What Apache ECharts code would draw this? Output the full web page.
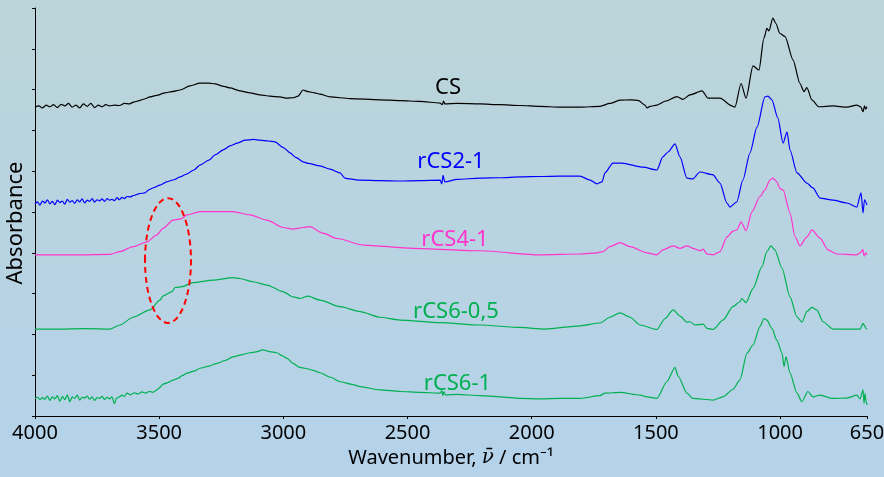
<!DOCTYPE html>
<html>
<head>
<meta charset="utf-8">
<script src="https://cdn.jsdelivr.net/npm/echarts@6/dist/echarts.min.js"></script>
<style>
  html, body { margin: 0; padding: 0; }
  #chart { width: 884px; height: 477px; }
</style>
</head>
<body>
<div id="chart"></div>
<script>
// x tick labels (wavenumber, cm-1)
const wavenumberTicks = [4000, 3500, 3000, 2500, 2000, 1500, 1000, 650]

// spectra: [wavenumber, absorbance + stacking offset]
const cs = [
  [4000,7.57],[3985,7.60],[3970,7.55],[3955,7.62],[3940,7.58],[3925,7.63],[3910,7.56],[3895,7.64],
  [3880,7.60],[3865,7.66],[3850,7.57],[3835,7.62],[3820,7.55],[3805,7.65],[3790,7.59],[3775,7.66],
  [3760,7.56],[3745,7.62],[3730,7.58],[3715,7.63],[3700,7.60],[3680,7.62],[3660,7.61],[3640,7.66],
  [3620,7.65],[3600,7.70],[3580,7.73],[3560,7.77],[3537,7.82],[3510,7.86],[3477,7.92],[3450,7.95],
  [3416,7.99],[3376,8.09],[3336,8.16],[3300,8.16],[3275,8.14],[3240,8.08],[3215,8.04],[3175,7.97],
  [3134,7.92],[3094,7.87],[3054,7.84],[3014,7.82],[2985,7.79],[2961,7.80],[2941,7.84],[2921,7.99],
  [2900,7.95],[2873,7.92],[2853,7.89],[2812,7.82],[2732,7.78],[2611,7.75],[2530,7.73],[2450,7.71],
  [2369,7.67],[2360,7.63],[2355,7.72],[2350,7.65],[2300,7.66],[2208,7.65],[2128,7.63],[2047,7.61],
  [1967,7.59],[1886,7.57],[1806,7.57],[1725,7.59],[1685,7.66],[1645,7.74],[1600,7.75],[1570,7.73],
  [1544,7.62],[1536,7.55],[1524,7.59],[1496,7.62],[1460,7.72],[1415,7.83],[1391,7.76],[1363,7.87],
  [1314,7.97],[1290,7.79],[1242,7.79],[1194,7.60],[1182,7.57],[1157,8.15],[1137,7.79],[1109,8.58],
  [1085,8.48],[1065,9.26],[1053,9.50],[1045,9.44],[1029,9.75],[1017,9.62],[1001,9.38],[980,9.30],
  [948,8.73],[920,8.15],[904,7.95],[892,8.05],[872,7.75],[844,7.58],[787,7.60],[731,7.57],
  [691,7.62],[675,7.58],[666,7.46],[660,7.60],[655,7.52],[650,7.58]
]

const rcs2_1 = [
  [4000,5.20],[3990,5.25],[3980,5.17],[3970,5.27],[3960,5.22],[3950,5.30],[3940,5.20],[3930,5.26],
  [3920,5.18],[3910,5.29],[3900,5.23],[3890,5.27],[3880,5.19],[3870,5.31],[3860,5.24],[3850,5.28],
  [3840,5.21],[3830,5.30],[3820,5.25],[3810,5.32],[3800,5.22],[3790,5.29],[3780,5.26],[3770,5.33],
  [3760,5.24],[3750,5.30],[3740,5.27],[3730,5.32],[3720,5.26],[3710,5.33],[3700,5.29],[3690,5.31],
  [3680,5.28],[3670,5.35],[3660,5.30],[3650,5.36],[3640,5.33],[3630,5.38],[3618,5.37],[3600,5.41],
  [3580,5.45],[3557,5.47],[3540,5.55],[3520,5.60],[3497,5.66],[3470,5.74],[3440,5.79],[3416,5.86],
  [3390,5.93],[3360,6.03],[3336,6.15],[3300,6.27],[3275,6.40],[3240,6.53],[3215,6.62],[3185,6.69],
  [3154,6.76],[3120,6.78],[3094,6.76],[3060,6.74],[3034,6.72],[3000,6.58],[2973,6.45],[2950,6.34],
  [2921,6.23],[2900,6.19],[2853,6.13],[2812,6.05],[2772,5.96],[2752,5.83],[2732,5.81],[2691,5.78],
  [2611,5.77],[2530,5.76],[2450,5.77],[2369,5.78],[2362,5.69],[2357,5.90],[2350,5.74],[2300,5.80],
  [2208,5.83],[2128,5.84],[2047,5.86],[1967,5.87],[1886,5.88],[1806,5.88],[1765,5.78],[1737,5.69],
  [1717,5.74],[1705,5.96],[1673,6.20],[1637,6.20],[1552,6.10],[1496,6.03],[1472,6.35],[1451,6.47],
  [1423,6.67],[1403,6.35],[1375,5.83],[1351,5.81],[1323,5.98],[1270,5.91],[1242,5.71],[1214,5.22],
  [1202,5.12],[1174,5.25],[1150,5.78],[1121,6.45],[1093,7.08],[1061,7.82],[1049,7.84],[1033,7.75],
  [1009,7.30],[988,6.69],[972,6.96],[960,6.52],[932,5.96],[892,5.71],[868,5.59],[839,5.34],
  [787,5.29],[731,5.22],[691,5.12],[674,5.47],[666,4.98],[660,5.30],[650,5.17]
]

const rcs4_1 = [
  [4000,3.95],[3819,3.95],[3698,3.96],[3658,4.03],[3605,4.15],[3549,4.27],[3509,4.44],[3485,4.60],
  [3444,4.80],[3408,4.84],[3388,4.93],[3336,5.01],[3203,5.01],[3134,4.93],[3066,4.80],[3002,4.62],
  [2960,4.58],[2921,4.62],[2893,4.64],[2840,4.48],[2784,4.35],[2679,4.19],[2478,4.11],[2208,4.05],
  [1967,3.95],[1806,3.97],[1737,4.00],[1713,4.03],[1685,4.15],[1645,4.25],[1604,4.15],[1536,4.00],
  [1496,3.95],[1472,4.07],[1431,4.17],[1403,4.11],[1375,4.17],[1351,4.11],[1323,4.05],[1310,4.09],
  [1294,3.97],[1270,3.95],[1242,4.03],[1214,4.39],[1190,4.53],[1174,4.56],[1157,4.76],[1137,4.54],
  [1113,5.01],[1081,5.38],[1061,5.54],[1041,5.78],[1029,5.83],[1013,5.74],[1001,5.58],[988,5.54],
  [960,4.98],[940,4.40],[920,4.17],[892,4.39],[872,4.56],[839,4.36],[807,4.07],[771,3.97],
  [691,3.95],[678,4.00],[666,4.08],[662,3.92],[654,4.00],[650,3.95]
]

const rcs6_05 = [
  [4000,2.13],[3900,2.13],[3800,2.14],[3698,2.13],[3658,2.23],[3605,2.42],[3537,2.60],[3497,2.84],
  [3485,2.94],[3448,3.05],[3436,3.15],[3408,3.17],[3364,3.27],[3283,3.33],[3203,3.39],[3175,3.37],
  [3122,3.29],[3066,3.21],[3002,3.05],[2961,2.92],[2933,2.88],[2901,2.94],[2853,2.84],[2772,2.68],
  [2691,2.56],[2611,2.42],[2530,2.35],[2369,2.29],[2208,2.23],[2047,2.17],[1947,2.13],[1806,2.21],
  [1725,2.28],[1685,2.42],[1645,2.53],[1604,2.42],[1564,2.23],[1496,2.12],[1463,2.39],[1431,2.60],
  [1403,2.45],[1375,2.30],[1363,2.31],[1343,2.23],[1310,2.25],[1294,2.15],[1270,2.12],[1230,2.35],
  [1190,2.68],[1162,2.80],[1154,2.88],[1137,2.78],[1109,3.13],[1073,3.66],[1053,4.03],[1037,4.17],
  [1021,4.07],[992,3.62],[960,2.92],[932,2.43],[912,2.30],[892,2.56],[872,2.66],[852,2.60],
  [827,2.31],[787,2.13],[678,2.13],[666,2.27],[654,2.15],[650,2.13]
]

const rcs6_1 = [
  [4000,0.43],[3990,0.46],[3980,0.40],[3970,0.45],[3960,0.41],[3950,0.49],[3940,0.38],[3930,0.47],
  [3920,0.42],[3910,0.50],[3900,0.36],[3890,0.48],[3880,0.40],[3870,0.52],[3860,0.35],[3850,0.47],
  [3840,0.43],[3830,0.51],[3820,0.39],[3810,0.46],[3800,0.44],[3790,0.49],[3780,0.41],[3770,0.47],
  [3760,0.38],[3750,0.45],[3740,0.43],[3730,0.48],[3720,0.40],[3710,0.46],[3700,0.42],[3690,0.47],
  [3680,0.30],[3672,0.44],[3660,0.47],[3650,0.51],[3640,0.48],[3630,0.56],[3615,0.52],[3600,0.57],
  [3585,0.54],[3570,0.59],[3555,0.56],[3540,0.60],[3525,0.58],[3509,0.64],[3497,0.70],[3485,0.78],
  [3465,0.82],[3444,0.88],[3425,0.92],[3408,0.99],[3388,1.05],[3360,1.10],[3336,1.17],[3300,1.22],
  [3267,1.29],[3235,1.36],[3203,1.45],[3170,1.50],[3134,1.55],[3110,1.57],[3082,1.62],[3055,1.58],
  [3026,1.55],[3005,1.48],[2985,1.41],[2961,1.29],[2933,1.19],[2913,1.17],[2880,1.12],[2853,1.06],
  [2810,0.95],[2772,0.84],[2720,0.77],[2691,0.72],[2611,0.64],[2530,0.60],[2450,0.58],[2369,0.56],
  [2362,0.62],[2358,0.50],[2354,0.60],[2348,0.52],[2300,0.53],[2208,0.50],[2128,0.47],[2047,0.43],
  [1967,0.42],[1886,0.43],[1806,0.43],[1725,0.50],[1705,0.56],[1645,0.58],[1564,0.51],[1536,0.47],
  [1496,0.43],[1456,0.84],[1423,1.19],[1411,0.98],[1375,0.56],[1351,0.43],[1270,0.39],[1230,0.47],
  [1190,0.65],[1162,0.88],[1133,1.54],[1109,1.74],[1081,2.19],[1065,2.39],[1053,2.35],[1033,2.15],
  [1013,1.86],[992,1.54],[984,1.21],[976,1.45],[960,1.05],[932,0.56],[912,0.35],[888,0.60],
  [868,0.47],[839,0.51],[787,0.43],[731,0.44],[691,0.51],[678,0.42],[666,0.64],[662,0.31],
  [658,0.55],[654,0.36],[650,0.27]
]

const seriesNames = ['CS', 'rCS2-1', 'rCS4-1', 'rCS6-0,5', 'rCS6-1']
const seriesData = [cs, rcs2_1, rcs4_1, rcs6_05, rcs6_1]
const seriesColors = ['#000000', '#0000ff', '#ff33cc', '#00b050', '#00b050']
// where the curve names sit, in data coords
const labelAnchors = [[2337, 8.04], [2325, 6.23], [2309, 4.32], [2305, 2.55], [2299, 0.79]]
// dashed ellipse around the 3450 shoulder: [left wn, right wn, top abs, bottom abs]
const ellipseBox = [3557, 3372, 5.34, 2.28]

const fontFamily = '"Noto Sans", "Open Sans", sans-serif'

var chart = echarts.init(document.getElementById('chart'))

var option = {
  animation: false,
  backgroundColor: {
    type: 'linear', x: 0, y: 0, x2: 0, y2: 1,
    colorStops: [
      { offset: 0, color: '#bcd5d9' },
      { offset: 1, color: '#b4d2ea' }
    ]
  },
  grid: { left: 35, right: 17, top: 8, bottom: 61, outerBoundsMode: 'none' },
  xAxis: {
    type: 'value',
    min: 650,
    max: 4000,
    inverse: true,
    name: '{a|Wavenumber, }{b|ν\u0304}{a| / cm⁻¹}',
    nameLocation: 'middle',
    nameGap: 31,
    nameTextStyle: {
      color: '#000', fontSize: 20, fontFamily: fontFamily,
      rich: {
        a: { color: '#000', fontSize: 20, fontFamily: fontFamily },
        b: { color: '#000', fontSize: 20, fontFamily: '"DejaVu Serif", serif', fontStyle: 'italic' }
      }
    },
    axisLine: { lineStyle: { color: '#000', width: 1 } },
    axisTick: { show: true, length: 3, customValues: wavenumberTicks, lineStyle: { color: '#000' } },
    axisLabel: {
      customValues: wavenumberTicks,
      formatter: function (v) { return String(v) },
      color: '#000', fontSize: 20, fontFamily: fontFamily, margin: 7
    },
    splitLine: { show: false }
  },
  yAxis: {
    type: 'value',
    min: 0,
    max: 10,
    interval: 1,
    name: 'Absorbance',
    nameLocation: 'middle',
    nameGap: 8,
    nameTextStyle: { color: '#000', fontSize: 22, fontFamily: fontFamily, padding: [0, 22, 0, 0] },
    axisLine: { show: true, lineStyle: { color: '#000', width: 1 } },
    axisTick: { show: true, length: 3, lineStyle: { color: '#000' } },
    axisLabel: { show: false },
    splitLine: { show: false }
  },
  series: seriesNames.map(function (name, i) {
    return {
      name: name,
      type: 'line',
      data: seriesData[i],
      showSymbol: false,
      symbol: 'none',
      smooth: 0.25,
      smoothMonotone: 'x',
      lineStyle: { color: seriesColors[i], width: 1.2 },
      z: 2
    }
  })
}

chart.setOption(option)

// labels and ellipse placed from data coords
var graphics = seriesNames.map(function (name, i) {
  var p = chart.convertToPixel({ gridIndex: 0 }, labelAnchors[i])
  return {
    type: 'text',
    x: p[0],
    y: p[1],
    z: 10,
    style: {
      text: name,
      fill: seriesColors[i],
      font: '22px ' + fontFamily,
      textAlign: 'center',
      textVerticalAlign: 'middle',
      align: 'center',
      verticalAlign: 'middle'
    }
  }
})

var tl = chart.convertToPixel({ gridIndex: 0 }, [ellipseBox[0], ellipseBox[2]])
var br = chart.convertToPixel({ gridIndex: 0 }, [ellipseBox[1], ellipseBox[3]])
graphics.push({
  type: 'ellipse',
  z: 10,
  shape: {
    cx: (tl[0] + br[0]) / 2,
    cy: (tl[1] + br[1]) / 2,
    rx: Math.abs(br[0] - tl[0]) / 2,
    ry: Math.abs(br[1] - tl[1]) / 2
  },
  style: { fill: null, stroke: '#ff0000', lineWidth: 2, lineDash: [6, 4] }
})

chart.setOption({ graphic: graphics })
</script>
</body>
</html>
